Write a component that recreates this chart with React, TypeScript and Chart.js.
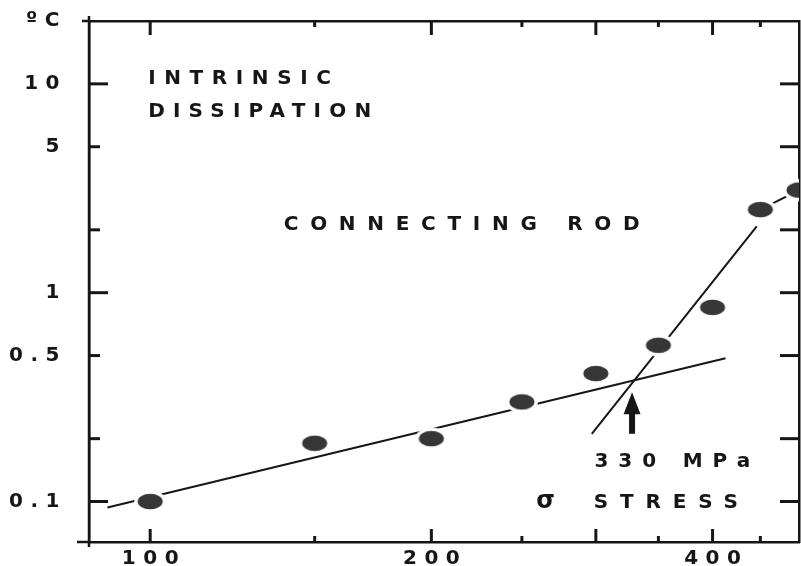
import React, { useEffect, useRef } from 'react';
import { Chart, registerables } from 'chart.js';

Chart.register(...registerables);

// ---- data ----
const STRESS = [100, 150, 200, 250, 300, 350, 400, 450, 495];
const DISSIPATION = [0.1, 0.19, 0.2, 0.3, 0.41, 0.56, 0.85, 2.5, 3.1];

const FIT_LOW_X = [90, 413];
const FIT_LOW_Y = [0.0936, 0.485];
const FIT_HIGH_X = [297, 446];
const FIT_HIGH_Y = [0.211, 2.08];
const LINK_X = [450, 495];
const LINK_Y = [2.5, 3.1];

const KNEE_STRESS = 328;
const ARROW_Y = [0.211, 0.334];

const X_TICKS = [100, 150, 200, 250, 300, 350, 400, 450];
const X_TICK_TEXT = ['100', '', '200', '', '', '', '400', ''];
const X_MAJOR = [100, 200, 300, 400];

const Y_TICKS = [0.1, 0.2, 0.5, 1, 2, 5, 10, 20];
const Y_TICK_TEXT = ['0.1', '', '0.5', '1', '', '5', '10', 'ºC'];
const Y_MARKS = [0.1, 0.2, 0.5, 1, 2, 5, 10];
const Y_MAJOR = [0.1, 1, 10];

const X_MIN = 86;
const X_MAX = 495;
const Y_MIN = 0.064;
const Y_MAX = 20;

const NOTES = [
  { text: 'INTRINSIC', x: 99.5, y: 10, ls: 8.6, size: 20 },
  { text: 'DISSIPATION', x: 99.5, y: 6.96, ls: 8.2, size: 20 },
  { text: 'CONNECTING ROD', x: 139, y: 2.0, ls: 11.7, size: 20 },
  { text: '330 MPa', x: 299, y: 0.147, ls: 9.9, size: 20 },
  { text: 'σ', x: 259, y: 0.0926, ls: 0, size: 24 },
  { text: 'STRESS', x: 298.5, y: 0.0926, ls: 11.8, size: 20 },
];

const INK = '#161616';
const FONT = '"DejaVu Sans", sans-serif';
const TICK_SPACING = 7.5;

function makeMarker(): HTMLCanvasElement {
  const rx = 12.5;
  const ry = 7.8;
  const halo = 3.5;
  const c = document.createElement('canvas');
  c.width = Math.ceil(2 * (rx + halo)) + 2;
  c.height = Math.ceil(2 * (ry + halo)) + 2;
  const g = c.getContext('2d')!;
  const cx = c.width / 2;
  const cy = c.height / 2;
  g.fillStyle = '#ffffff';
  g.beginPath();
  g.ellipse(cx, cy, rx + halo, ry + halo, 0, 0, Math.PI * 2);
  g.fill();
  g.fillStyle = '#363636';
  g.beginPath();
  g.ellipse(cx, cy, rx, ry, 0, 0, Math.PI * 2);
  g.fill();
  return c;
}

const spacingPlugin = {
  id: 'spacing',
  beforeDraw(chart: any) {
    (chart.ctx as any).letterSpacing = TICK_SPACING + 'px';
  },
};

const framePlugin = {
  id: 'frame',
  afterDraw(chart: any) {
    const { ctx, chartArea: a, scales } = chart;
    const xs = scales.x;
    const ys = scales.y;
    const seg = (x1: number, y1: number, x2: number, y2: number) => {
      ctx.beginPath();
      ctx.moveTo(x1, y1);
      ctx.lineTo(x2, y2);
      ctx.stroke();
    };
    ctx.save();
    ctx.strokeStyle = INK;
    ctx.lineCap = 'butt';
    ctx.lineWidth = 3;
    X_TICKS.forEach((v) => {
      const px = xs.getPixelForValue(v);
      const major = X_MAJOR.includes(v);
      seg(px, a.bottom, px, a.bottom - (major ? 13 : 6));
      seg(px, a.top, px, a.top + (major ? 14 : 6));
    });
    Y_MARKS.forEach((v) => {
      const py = ys.getPixelForValue(v);
      const major = Y_MAJOR.includes(v);
      seg(a.left, py, a.left + (major ? 19 : 11), py);
      seg(a.right, py, a.right - 19, py);
    });
    ctx.lineWidth = 2.5;
    seg(a.left, a.top - 5, a.left, a.bottom + 5);
    seg(a.left - 7, a.top, a.left, a.top);
    seg(a.left - 12, a.bottom, a.left, a.bottom);
    ctx.restore();
  },
};

const notesPlugin = {
  id: 'notes',
  afterDraw(chart: any) {
    const { ctx, scales } = chart;
    const xs = scales.x;
    const ys = scales.y;
    ctx.save();
    ctx.fillStyle = INK;
    ctx.textAlign = 'left';
    ctx.textBaseline = 'alphabetic';
    NOTES.forEach((n) => {
      (ctx as any).letterSpacing = n.ls + 'px';
      ctx.font = `bold ${n.size}px ${FONT}`;
      ctx.fillText(n.text, xs.getPixelForValue(n.x), ys.getPixelForValue(n.y));
    });
    // arrow pointing at the knee
    const ax = xs.getPixelForValue(KNEE_STRESS);
    const yb = ys.getPixelForValue(ARROW_Y[0]);
    const yt = ys.getPixelForValue(ARROW_Y[1]);
    ctx.strokeStyle = INK;
    ctx.lineWidth = 6;
    ctx.beginPath();
    ctx.moveTo(ax, yb);
    ctx.lineTo(ax, yt + 18);
    ctx.stroke();
    ctx.beginPath();
    ctx.moveTo(ax, yt);
    ctx.lineTo(ax - 8.5, yt + 22);
    ctx.lineTo(ax + 8.5, yt + 22);
    ctx.closePath();
    ctx.fill();
    ctx.restore();
  },
};

const noPadding = (s: any) => {
  s.paddingTop = 0;
  s.paddingBottom = 0;
  s.paddingLeft = 0;
  s.paddingRight = 0;
};

export default function App() {
  const ref = useRef<HTMLCanvasElement>(null);

  useEffect(() => {
    const canvas = ref.current;
    if (!canvas) return;
    const marker = makeMarker();
    const lineStyle = {
      showLine: true,
      borderColor: INK,
      borderWidth: 2,
      pointRadius: 0,
      pointHoverRadius: 0,
      fill: false,
      order: 1,
    };
    const axisFont = { family: FONT, size: 20, weight: 'bold' };
    const border = { display: true, color: INK, width: 2.5 };
    const chart = new Chart(canvas, {
      type: 'scatter',
      data: {
        datasets: [
          {
            label: 'measured',
            data: STRESS.map((x, i) => ({ x, y: DISSIPATION[i] })),
            pointStyle: marker as any,
            pointRadius: 12,
            pointHoverRadius: 12,
            backgroundColor: '#363636',
            borderWidth: 0,
            order: 0,
          },
          { label: 'low', data: FIT_LOW_X.map((x, i) => ({ x, y: FIT_LOW_Y[i] })), ...lineStyle },
          { label: 'high', data: FIT_HIGH_X.map((x, i) => ({ x, y: FIT_HIGH_Y[i] })), ...lineStyle },
          { label: 'link', data: LINK_X.map((x, i) => ({ x, y: LINK_Y[i] })), ...lineStyle },
        ],
      },
      options: {
        responsive: false,
        animation: false,
        events: [],
        layout: { autoPadding: false, padding: { top: 21, right: 2, left: 0, bottom: 0 } },
        plugins: { legend: { display: false }, tooltip: { enabled: false } },
        scales: {
          x: {
            type: 'logarithmic',
            position: 'bottom',
            min: X_MIN,
            max: X_MAX,
            bounds: 'data',
            afterBuildTicks: (s: any) => {
              s.ticks = X_TICKS.map((v) => ({ value: v }));
            },
            afterFit: (s: any) => {
              s.height = 24;
              noPadding(s);
            },
            grid: { display: false, drawTicks: false },
            border,
            ticks: {
              autoSkip: false,
              maxRotation: 0,
              minRotation: 0,
              padding: 5,
              labelOffset: TICK_SPACING / 2,
              color: INK,
              font: axisFont,
              callback: (_v: any, i: number) => X_TICK_TEXT[i],
            },
          },
          x2: {
            type: 'logarithmic',
            position: 'top',
            min: X_MIN,
            max: X_MAX,
            bounds: 'data',
            afterFit: (s: any) => {
              s.height = 0;
              noPadding(s);
            },
            grid: { display: false, drawTicks: false },
            border,
            ticks: { display: false },
          },
          y: {
            type: 'logarithmic',
            position: 'left',
            min: Y_MIN,
            max: Y_MAX,
            bounds: 'data',
            afterBuildTicks: (s: any) => {
              s.ticks = Y_TICKS.map((v) => ({ value: v }));
            },
            afterFit: (s: any) => {
              s.width = 89;
              noPadding(s);
            },
            grid: { display: false, drawTicks: false },
            border,
            ticks: {
              autoSkip: false,
              padding: 22,
              color: INK,
              font: axisFont,
              callback: (_v: any, i: number) => Y_TICK_TEXT[i],
            },
          },
          y2: {
            type: 'logarithmic',
            position: 'right',
            min: Y_MIN,
            max: Y_MAX,
            bounds: 'data',
            afterFit: (s: any) => {
              s.width = 0;
              noPadding(s);
            },
            grid: { display: false, drawTicks: false },
            border,
            ticks: { display: false },
          },
        },
      } as any,
      plugins: [spacingPlugin, framePlugin, notesPlugin],
    });
    return () => chart.destroy();
  }, []);

  return (
    <div style={{ position: 'absolute', left: 0, top: 0, width: 801, height: 566, background: '#ffffff' }}>
      <canvas ref={ref} width={801} height={566} style={{ display: 'block', width: 801, height: 566 }} />
    </div>
  );
}
